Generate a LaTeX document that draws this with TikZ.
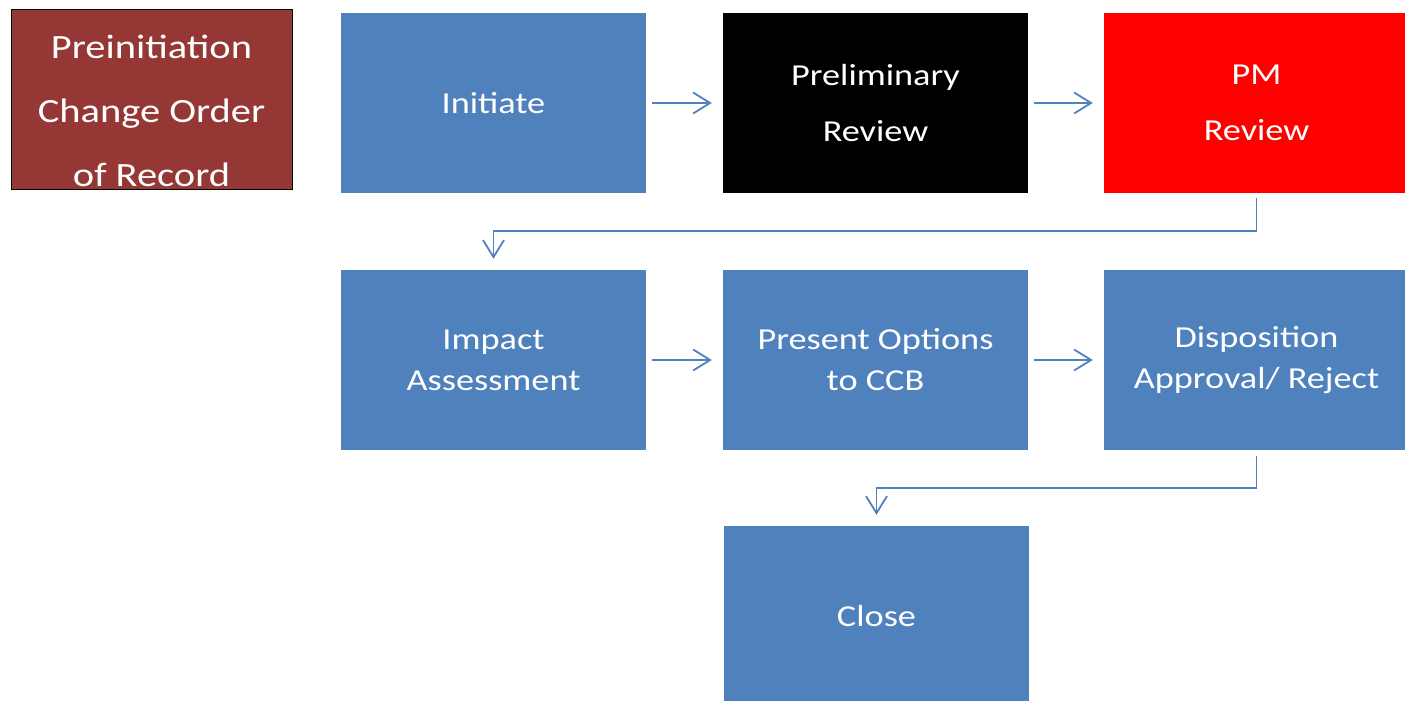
\documentclass[tikz,border=0pt]{standalone}
\usepackage{fontspec}
\setmainfont{Carlito}[FakeStretch=1.19]
\usetikzlibrary{arrows.meta}
\definecolor{boxblue}{HTML}{4F81BD}
\definecolor{boxbrown}{HTML}{953735}
\definecolor{boxred}{HTML}{FF0000}
\tikzset{
  stepbox/.style={fill=boxblue, text=white, minimum width=305pt, minimum height=180pt, inner sep=0pt, align=center, font=\fontsize{30.5}{41}\selectfont},
  wide/.style={font=\fontsize{30.5}{56}\selectfont},
  prebox/.style={fill=boxbrown, draw=black, line width=0.8pt, minimum width=281pt, minimum height=180pt, inner sep=0pt},
  pretext/.style={text=white, align=center, inner sep=0pt, font=\fontsize{34}{64}\selectfont},
  arr/.style={draw=boxblue, line width=1.8pt, -{Straight Barb[length=17pt,width=21pt]}},
}
\begin{document}
\begin{tikzpicture}[x=1pt,y=-1pt]
\useasboundingbox (0,0) rectangle (1405,701);
\clip (0,0) rectangle (1405,701);
\node[prebox] (pre) at (151.5,99) {};
\node[pretext] (pretxt) at ([yshift=-12pt]pre.center) {Preinitiation\\Change Order\\of Record};
\node[stepbox] (init) at (493.5,103) {Initiate};
\node[stepbox, wide, fill=black] (prelim) at (875.5,103) {Preliminary\\Review};
\node[stepbox, wide, fill=boxred] (pm) at (1256.5,103) {PM\\Review};
\node[stepbox] (impact) at (493.5,360) {Impact\\Assessment};
\node[stepbox] (present) at (875.5,360) {Present Options\\to CCB};
\node[stepbox] (disp) at (1256.5,360) {Disposition\\Approval/ Reject};
\node[stepbox] (close) at (876.5,616) {Close};
\draw[arr, shorten <=6pt, shorten >=11pt] (init) -- (prelim);
\draw[arr, shorten <=6pt, shorten >=11pt] (prelim) -- (pm);
\draw[arr, shorten <=6pt, shorten >=11pt] (impact) -- (present);
\draw[arr, shorten <=6pt, shorten >=11pt] (present) -- (disp);
\draw[arr, shorten <=5pt, shorten >=11pt] (pm.south) -- ++(0,38) -| (impact.north);
\draw[arr, shorten <=6pt, shorten >=11pt] (disp.south) -- ++(0,38) -| (close.north);
\end{tikzpicture}
\end{document}
